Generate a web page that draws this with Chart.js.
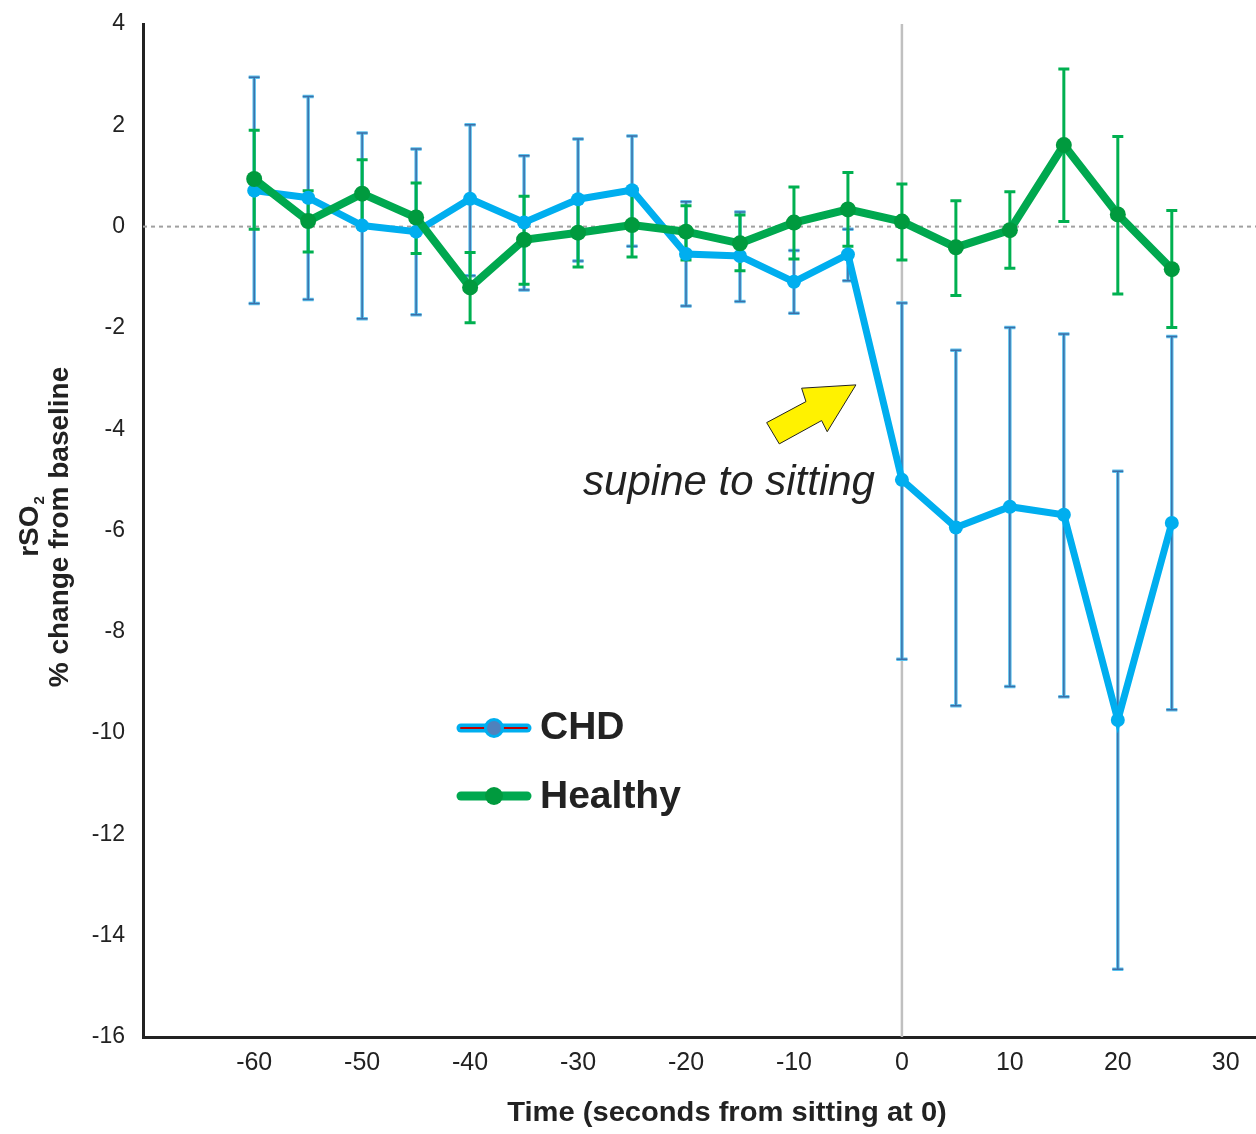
<!DOCTYPE html>
<html>
<head>
<meta charset="utf-8">
<script src="https://cdn.jsdelivr.net/npm/chart.js@4/dist/chart.umd.min.js"></script>
<style>
  body { margin: 0; background: #fff; }
  #wrap { width: 1256px; height: 1134px; }
</style>
</head>
<body>
<div id="wrap"><canvas id="rso2Chart" width="1256" height="1134"></canvas></div>
<script>
// time points (seconds from sitting at 0)
const times = [-60, -55, -50, -45, -40, -35, -30, -25, -20, -15, -10, -5, 0, 5, 10, 15, 20, 25];

// CHD group: mean and error bar ends
const chdMean  = [0.71, 0.57, 0.02, -0.10, 0.55, 0.08, 0.54, 0.72, -0.54, -0.58, -1.09, -0.55, -5.00, -5.94, -5.53, -5.69, -9.74, -5.85];
const chdUpper = [2.95, 2.57, 1.85, 1.53, 2.01, 1.40, 1.73, 1.79, 0.49, 0.29, -0.47, -0.05, -1.51, -2.44, -1.99, -2.12, -4.83, -2.17];
const chdLower = [-1.52, -1.44, -1.82, -1.74, -0.97, -1.25, -0.68, -0.39, -1.57, -1.48, -1.71, -1.07, -8.54, -9.46, -9.08, -9.28, -14.66, -9.54];

// Healthy group
const healthyMean  = [0.94, 0.11, 0.65, 0.18, -1.20, -0.26, -0.12, 0.03, -0.10, -0.33, 0.08, 0.34, 0.10, -0.41, -0.07, 1.61, 0.24, -0.84];
const healthyUpper = [1.90, 0.71, 1.32, 0.86, -0.51, 0.60, 0.56, 0.66, 0.41, 0.23, 0.78, 1.07, 0.84, 0.51, 0.69, 3.11, 1.78, 0.32];
const healthyLower = [-0.05, -0.50, -0.02, -0.53, -1.90, -1.14, -0.80, -0.60, -0.66, -0.87, -0.64, -0.39, -0.66, -1.36, -0.82, 0.10, -1.33, -1.99];

// axis ticks
const xTickVals = [-60, -50, -40, -30, -20, -10, 0, 10, 20, 30];
const yTickVals = [4, 2, 0, -2, -4, -6, -8, -10, -12, -14, -16];

// annotation: yellow arrow outline (data units) and label
const arrowShape = [[-4.26, -3.125], [-9.29, -3.19], [-8.89, -3.455], [-12.53, -3.87], [-11.36, -4.29], [-7.44, -3.83], [-6.92, -4.05]];
const noteText = 'supine to sitting';

const FONT = '"Liberation Sans", Arial, Helvetica, sans-serif';
const CHD_BLUE = '#00aeef';
const GREEN = '#00a84f';

function toPoints(vals) {
  return times.map((t, i) => ({ x: t, y: vals[i] }));
}

// error bars, zero line, vertical line at 0, arrow, legend and titles
const errorBarPlugin = {
  id: 'errorBars',
  beforeDatasetsDraw(chart) {
    const { ctx, chartArea, scales: { x, y } } = chart;
    ctx.save();

    // dashed zero line
    const y0 = y.getPixelForValue(0);
    ctx.strokeStyle = '#a0a0a0';
    ctx.lineWidth = 2;
    ctx.setLineDash([4, 4]);
    ctx.beginPath();
    ctx.moveTo(chartArea.left, y0);
    ctx.lineTo(chartArea.right, y0);
    ctx.stroke();
    ctx.setLineDash([]);

    // vertical line at sitting
    const x0 = x.getPixelForValue(0);
    ctx.strokeStyle = '#c0c0c0';
    ctx.lineWidth = 2.5;
    ctx.beginPath();
    ctx.moveTo(x0, chartArea.top);
    ctx.lineTo(x0, chartArea.bottom);
    ctx.stroke();

    const capHalf = 5.5;
    function bars(upper, lower, color, width) {
      ctx.strokeStyle = color;
      ctx.lineWidth = width;
      times.forEach((t, i) => {
        const px = x.getPixelForValue(t);
        const top = y.getPixelForValue(upper[i]);
        const bot = y.getPixelForValue(lower[i]);
        ctx.beginPath();
        ctx.moveTo(px, top); ctx.lineTo(px, bot);
        ctx.moveTo(px - capHalf, top); ctx.lineTo(px + capHalf, top);
        ctx.moveTo(px - capHalf, bot); ctx.lineTo(px + capHalf, bot);
        ctx.stroke();
      });
    }
    bars(chdUpper, chdLower, '#5cc2ee', 3.5);
    bars(chdUpper, chdLower, '#3b6fa8', 1.5);
    bars(healthyUpper, healthyLower, '#00b050', 3);
    ctx.restore();
  },
  afterDatasetsDraw(chart) {
    const { ctx, scales: { x, y } } = chart;
    ctx.save();

    // arrow
    ctx.beginPath();
    arrowShape.forEach((p, i) => {
      const px = x.getPixelForValue(p[0]);
      const py = y.getPixelForValue(p[1]);
      if (i === 0) ctx.moveTo(px, py); else ctx.lineTo(px, py);
    });
    ctx.closePath();
    ctx.fillStyle = '#fff200';
    ctx.fill();
    ctx.strokeStyle = '#222';
    ctx.lineWidth = 1;
    ctx.stroke();

    // note text
    ctx.fillStyle = '#222';
    ctx.font = 'italic 42px ' + FONT;
    ctx.textAlign = 'right';
    ctx.textBaseline = 'middle';
    ctx.fillText(noteText, x.getPixelForValue(-2.5), y.getPixelForValue(-5.06));

    // legend
    const lx1 = 457, lx2 = 531, mx = 494;
    ctx.lineCap = 'round';
    ctx.strokeStyle = CHD_BLUE; ctx.lineWidth = 9;
    ctx.beginPath(); ctx.moveTo(lx1 + 4, 728); ctx.lineTo(lx2 - 4, 728); ctx.stroke();
    ctx.strokeStyle = '#c00000'; ctx.lineWidth = 2;
    ctx.beginPath(); ctx.moveTo(lx1 + 4, 728); ctx.lineTo(lx2 - 4, 728); ctx.stroke();
    ctx.beginPath(); ctx.arc(mx, 728, 8.5, 0, Math.PI * 2);
    ctx.fillStyle = '#4f81bd'; ctx.fill();
    ctx.strokeStyle = CHD_BLUE; ctx.lineWidth = 3; ctx.stroke();

    ctx.strokeStyle = GREEN; ctx.lineWidth = 9;
    ctx.beginPath(); ctx.moveTo(lx1 + 4, 796); ctx.lineTo(lx2 - 4, 796); ctx.stroke();
    ctx.beginPath(); ctx.arc(mx, 796, 9, 0, Math.PI * 2);
    ctx.fillStyle = '#009a3e'; ctx.fill();

    ctx.fillStyle = '#222';
    ctx.font = 'bold 39px ' + FONT;
    ctx.textAlign = 'left';
    ctx.textBaseline = 'middle';
    ctx.fillText('CHD', 540, 728);
    ctx.fillText('Healthy', 540, 797);
    ctx.restore();
  },
  afterDraw(chart) {
    const { ctx } = chart;
    ctx.save();
    ctx.fillStyle = '#222';
    // x axis title
    ctx.font = 'bold 28px ' + FONT;
    ctx.textAlign = 'center';
    ctx.textBaseline = 'middle';
    ctx.save();
    ctx.translate(727, 1113);
    ctx.scale(1.04, 1);
    ctx.fillText('Time (seconds from sitting at 0)', 0, 0);
    ctx.restore();

    // y axis title (two lines, rotated)
    ctx.translate(0, 527);
    ctx.rotate(-Math.PI / 2);
    ctx.font = 'bold 28px ' + FONT;
    ctx.textAlign = 'center';
    ctx.fillText('% change from baseline', 0, 60);
    const w1 = ctx.measureText('rSO').width;
    ctx.font = 'bold 15px ' + FONT;
    const w2 = ctx.measureText('2').width;
    ctx.font = 'bold 28px ' + FONT;
    ctx.textAlign = 'left';
    const start = -(w1 + w2) / 2;
    ctx.fillText('rSO', start, 30);
    ctx.font = 'bold 15px ' + FONT;
    ctx.fillText('2', start + w1 + 1, 40);
    ctx.restore();
  }
};

const ctx = document.getElementById('rso2Chart').getContext('2d');
const chart = new Chart(ctx, {
  type: 'line',
  data: {
    datasets: [
      {
        label: 'Healthy',
        data: toPoints(healthyMean),
        borderColor: GREEN,
        backgroundColor: '#009a3e',
        borderWidth: 8,
        pointRadius: 8,
        pointBorderWidth: 0,
        pointBackgroundColor: '#009a3e',
        tension: 0,
        order: 1
      },
      {
        label: 'CHD',
        data: toPoints(chdMean),
        borderColor: CHD_BLUE,
        backgroundColor: CHD_BLUE,
        borderWidth: 7,
        pointRadius: 7,
        pointBorderWidth: 0,
        pointBackgroundColor: CHD_BLUE,
        tension: 0,
        order: 2
      }
    ]
  },
  options: {
    responsive: false,
    animation: false,
    layout: { autoPadding: false, padding: { top: 24, right: 0, bottom: 0, left: 0 } },
    plugins: {
      legend: { display: false },
      tooltip: { enabled: false }
    },
    scales: {
      x: {
        type: 'linear',
        min: -70.3,
        max: 32.8,
        grid: { display: false, drawTicks: false },
        border: { display: true, color: '#222', width: 3 },
        afterBuildTicks: s => { s.ticks = xTickVals.map(v => ({ value: v })); },
        afterFit: s => { s.height = 97; s.paddingLeft = 0; s.paddingRight = 0; },
        ticks: {
          color: '#222',
          font: { family: FONT, size: 25 },
          padding: 11,
          maxRotation: 0,
          autoSkip: false
        }
      },
      y: {
        min: -16,
        max: 4,
        grid: { display: false, drawTicks: false },
        border: { display: true, color: '#222', width: 3 },
        afterBuildTicks: s => { s.ticks = yTickVals.map(v => ({ value: v })); },
        afterFit: s => { s.width = 143; s.paddingTop = 0; s.paddingBottom = 0; },
        ticks: {
          color: '#222',
          font: { family: FONT, size: 23 },
          padding: 18
        }
      }
    }
  },
  plugins: [errorBarPlugin]
});
</script>
</body>
</html>
